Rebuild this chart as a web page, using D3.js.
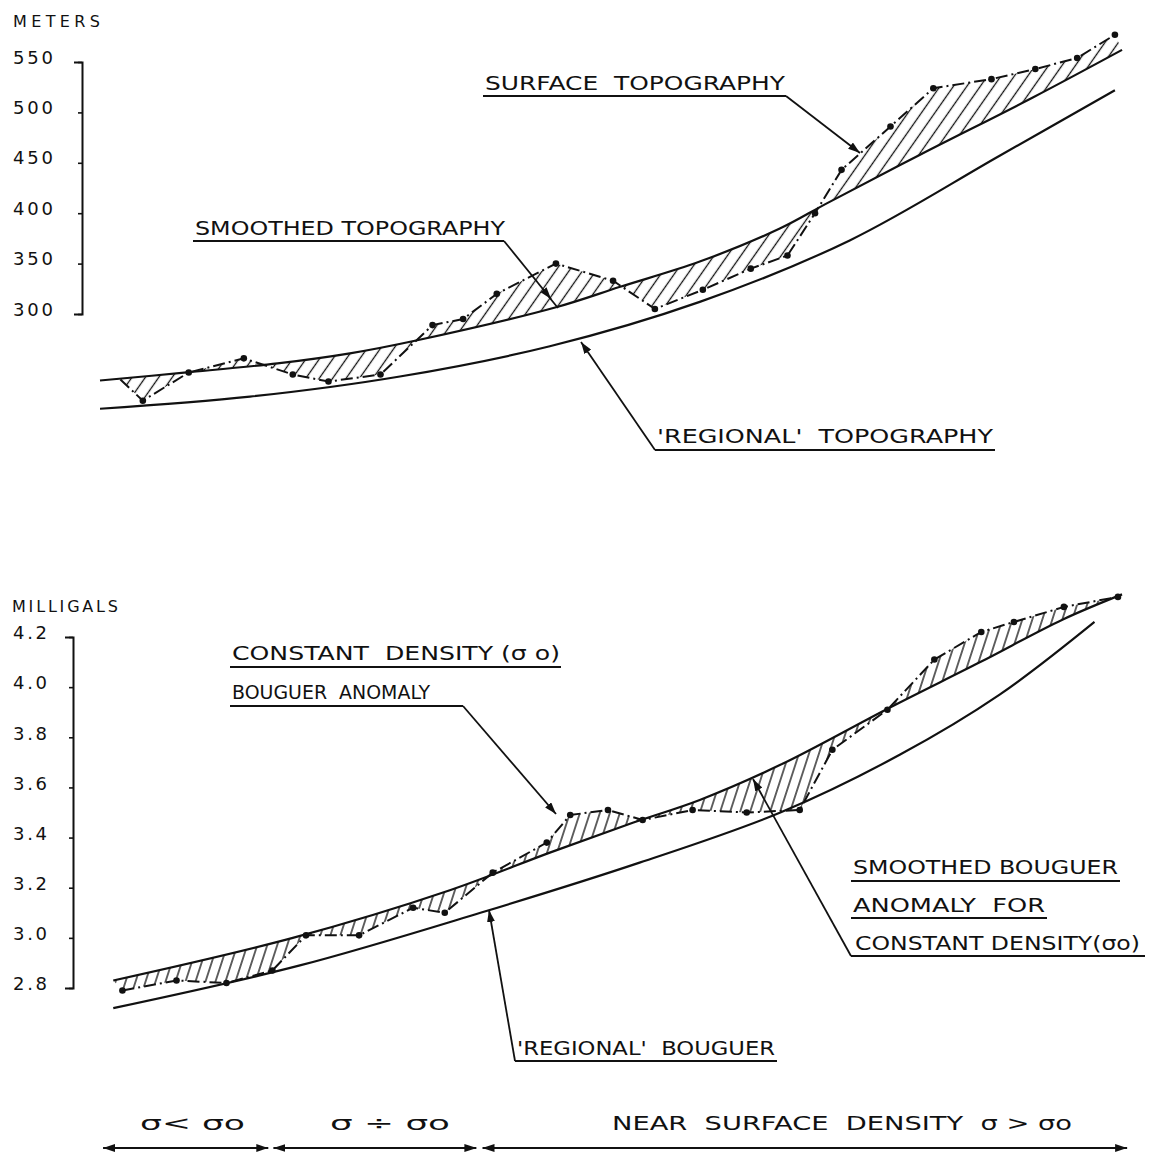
<!DOCTYPE html>
<html>
<head>
<meta charset="utf-8">
<script src="https://cdn.jsdelivr.net/npm/d3@7"></script>
<style>
  body { margin: 0; background: #fff; }
  svg text { font-family: "DejaVu Sans", sans-serif; fill: #111; white-space: pre; }
</style>
</head>
<body>
<svg id="chart" width="1156" height="1152"></svg>
<script>
// ---- Elevation profile (metres) along the traverse (km) ----
const surfaceTopoKm = [0.20, 0.42, 0.87, 1.41, 1.89, 2.24, 2.75, 3.26, 3.56, 3.89, 4.47, 5.03, 5.44, 5.91, 6.38, 6.74, 7.01, 7.27, 7.75, 8.17, 8.74, 9.17, 9.58, 9.95];
const surfaceTopoM  = [235, 214, 242, 256, 240, 233, 240, 289, 295, 320, 350, 333, 305, 324, 345, 358, 400, 443, 486, 524, 533, 543, 554, 577];
const smoothTopoKm  = [0, 0.85, 1.74, 2.45, 3.11, 4.48, 5.10, 5.88, 6.67, 7.13, 8.04, 9.15, 10.02];
const smoothTopoM   = [234, 242, 251, 261, 274, 307, 327, 352, 385, 410, 458, 515, 562];
const regionalTopoKm = [0, 1.47, 2.94, 4.41, 5.88, 7.35, 8.82, 9.95];
const regionalTopoM  = [206, 218, 238, 268, 312, 373, 457, 522];
const metreTicks = [300, 350, 400, 450, 500, 550];

// ---- Bouguer anomaly profile (mGal) ----
const anomalyKm   = [0.22, 0.75, 1.24, 1.69, 2.02, 2.54, 3.07, 3.38, 3.85, 4.38, 4.61, 4.98, 5.32, 5.81, 6.34, 6.86, 7.18, 7.72, 8.18, 8.64, 8.96, 9.45, 9.98];
const anomalyMgal = [2.79, 2.83, 2.82, 2.87, 3.01, 3.01, 3.12, 3.10, 3.26, 3.38, 3.49, 3.51, 3.47, 3.51, 3.50, 3.51, 3.75, 3.91, 4.11, 4.22, 4.26, 4.32, 4.36];
const smoothAnomKm   = [0.13, 1.89, 3.43, 4.41, 5.23, 5.88, 6.67, 7.75, 8.63, 9.44, 10.02];
const smoothAnomMgal = [2.83, 3.00, 3.19, 3.34, 3.46, 3.55, 3.69, 3.92, 4.10, 4.27, 4.37];
const regionalAnomKm   = [0.13, 1.96, 3.73, 5.29, 6.67, 7.84, 8.82, 9.75];
const regionalAnomMgal = [2.72, 2.89, 3.10, 3.30, 3.50, 3.73, 3.97, 4.26];
const mgalTicks = [2.8, 3.0, 3.2, 3.4, 3.6, 3.8, 4.0, 4.2];

// ---- Near-surface density zones along the traverse ----
const densityZoneLabels = ["σ< σo", "σ ÷ σo", "NEAR  SURFACE  DENSITY  σ > σo"];
const densityZoneKm = [[0.03, 1.65], [1.70, 3.69], [3.75, 10.07]];

const ink = "#111";
const svg = d3.select("#chart");
const defs = svg.append("defs");

const x = d3.scaleLinear().domain([0, 10]).range([100, 1120]);
const yTop = d3.scaleLinear().domain([300, 550]).range([314, 62]);
const yBot = d3.scaleLinear().domain([2.8, 4.2]).range([988, 637]);

const zip = (a, b) => a.map((v, i) => [v, b[i]]);

// hatch patterns: parallel lines rising to the right at the given angle
function hatchPattern(id, spacing, angle) {
  const p = defs.append("pattern")
    .attr("id", id)
    .attr("patternUnits", "userSpaceOnUse")
    .attr("width", spacing).attr("height", spacing)
    .attr("patternTransform", `rotate(${90 - angle})`);
  p.append("line")
    .attr("x1", spacing / 2).attr("y1", 0)
    .attr("x2", spacing / 2).attr("y2", spacing)
    .attr("stroke", ink).attr("stroke-width", 1.3);
}
hatchPattern("hatchTop", 11, 55);
hatchPattern("hatchBot", 9.5, 72);

// arrowhead marker for leader lines
defs.append("marker")
  .attr("id", "arrow")
  .attr("viewBox", "0 0 12 8")
  .attr("refX", 12).attr("refY", 4)
  .attr("markerWidth", 12).attr("markerHeight", 8)
  .attr("markerUnits", "userSpaceOnUse")
  .attr("orient", "auto")
  .append("path").attr("d", "M0,0L12,4L0,8Z").attr("fill", ink);

function drawProfile(yScale, obs, smooth, regional, hatchId) {
  const lin = d3.line().x(d => x(d[0])).y(d => yScale(d[1]));
  const crv = d3.line().x(d => x(d[0])).y(d => yScale(d[1])).curve(d3.curveCatmullRom.alpha(0.5));

  // hatched area between observed and smoothed profiles
  const band = lin(obs) + crv(smooth.slice().reverse()).replace(/^M/, "L") + "Z";
  svg.append("path").attr("d", band)
    .attr("fill", `url(#${hatchId})`).attr("fill-rule", "nonzero").attr("stroke", "none");

  svg.append("path").attr("d", crv(regional))
    .attr("fill", "none").attr("stroke", ink).attr("stroke-width", 2.2);
  svg.append("path").attr("d", crv(smooth))
    .attr("fill", "none").attr("stroke", ink).attr("stroke-width", 2.2);
  svg.append("path").attr("d", lin(obs))
    .attr("fill", "none").attr("stroke", ink).attr("stroke-width", 2)
    .attr("stroke-dasharray", "12 4 2 4");
}

// ---------- upper panel: topography ----------
const topoObs = zip(surfaceTopoKm, surfaceTopoM);
drawProfile(yTop, topoObs, zip(smoothTopoKm, smoothTopoM), zip(regionalTopoKm, regionalTopoM), "hatchTop");
svg.append("g").selectAll("circle").data(topoObs.slice(1)).join("circle")
  .attr("cx", d => x(d[0])).attr("cy", d => yTop(d[1])).attr("r", 3.3).attr("fill", ink);

const axTop = svg.append("g").attr("transform", "translate(82,0)")
  .call(d3.axisLeft(yTop).tickValues(metreTicks).tickSize(4).tickSizeOuter(8).tickPadding(25).tickFormat(d => d));
axTop.select(".domain").attr("stroke", ink).attr("stroke-width", 2);
axTop.selectAll(".tick line").attr("stroke", ink).attr("stroke-width", 1.6);
axTop.selectAll(".tick text").attr("font-family", "DejaVu Sans").attr("font-size", 18)
  .attr("fill", ink).attr("dy", "0.06em").attr("textLength", 40).attr("lengthAdjust", "spacing");
svg.append("text").attr("x", 13).attr("y", 27).attr("font-size", 16)
  .attr("textLength", 87).attr("lengthAdjust", "spacing").text("METERS");

// ---------- lower panel: Bouguer anomaly ----------
const anomObs = zip(anomalyKm, anomalyMgal);
drawProfile(yBot, anomObs, zip(smoothAnomKm, smoothAnomMgal), zip(regionalAnomKm, regionalAnomMgal), "hatchBot");
svg.append("g").selectAll("circle").data(anomObs).join("circle")
  .attr("cx", d => x(d[0])).attr("cy", d => yBot(d[1])).attr("r", 3.3).attr("fill", ink);

const axBot = svg.append("g").attr("transform", "translate(73,0)")
  .call(d3.axisLeft(yBot).tickValues(mgalTicks).tickSize(4).tickSizeOuter(8).tickPadding(22).tickFormat(d3.format(".1f")));
axBot.select(".domain").attr("stroke", ink).attr("stroke-width", 2);
axBot.selectAll(".tick line").attr("stroke", ink).attr("stroke-width", 1.6);
axBot.selectAll(".tick text").attr("font-family", "DejaVu Sans").attr("font-size", 18)
  .attr("fill", ink).attr("dy", "0.1em").attr("textLength", 34).attr("lengthAdjust", "spacing");
svg.append("text").attr("x", 12).attr("y", 612).attr("font-size", 16)
  .attr("textLength", 106).attr("lengthAdjust", "spacing").text("MILLIGALS");

// ---------- annotations ----------
function label(txt, x0, base, len, size = 20) {
  svg.append("text").attr("x", x0).attr("y", base).attr("font-size", size)
    .attr("textLength", len).attr("lengthAdjust", "spacingAndGlyphs").text(txt);
}
function rule(x1, y1, x2, y2, arrow) {
  const l = svg.append("line").attr("x1", x1).attr("y1", y1).attr("x2", x2).attr("y2", y2)
    .attr("stroke", ink).attr("stroke-width", 1.8);
  if (arrow) l.attr("marker-end", "url(#arrow)");
}

label("SURFACE  TOPOGRAPHY", 485, 90, 300);
rule(483, 96, 786, 96);
rule(786, 96, 860, 153, true);

label("SMOOTHED TOPOGRAPHY", 195, 235, 310);
rule(193, 241, 504, 241);
rule(504, 241, 551, 299, true);
rule(549, 297, 558, 308);

label("'REGIONAL'  TOPOGRAPHY", 657, 443, 336);
rule(655, 450, 995, 450);
rule(655, 450, 581, 342, true);

label("CONSTANT  DENSITY (σ o)", 232, 660, 328);
rule(230, 667, 561, 667);
label("BOUGUER  ANOMALY", 232, 699, 198);
rule(230, 706, 463, 706);
rule(463, 706, 556, 814, true);

label("SMOOTHED BOUGUER", 853, 874, 265);
rule(851, 881, 1120, 881);
label("ANOMALY  FOR", 853, 912, 192);
rule(851, 918, 1047, 918);
label("CONSTANT DENSITY(σo)", 855, 950, 285);
rule(851, 956, 1145, 956);
rule(851, 956, 753, 779, true);

label("'REGIONAL'  BOUGUER", 517, 1055, 258);
rule(515, 1061, 777, 1061);
rule(515, 1061, 489, 910, true);

// ---------- density zones along the traverse ----------
const zoneY = 1148;
const zoneLabelX = [140, 330, 612];
const zoneLabelLen = [105, 120, 460];
densityZoneKm.forEach((z, i) => {
  svg.append("line")
    .attr("x1", x(z[0]) + 12).attr("y1", zoneY).attr("x2", x(z[1])).attr("y2", zoneY)
    .attr("stroke", ink).attr("stroke-width", 2)
    .attr("marker-end", "url(#arrow)");
  svg.append("line")
    .attr("x1", x(z[1]) - 12).attr("y1", zoneY).attr("x2", x(z[0])).attr("y2", zoneY)
    .attr("stroke", ink).attr("stroke-width", 2)
    .attr("marker-end", "url(#arrow)");
  label(densityZoneLabels[i], zoneLabelX[i], 1130, zoneLabelLen[i]);
});
</script>
</body>
</html>
